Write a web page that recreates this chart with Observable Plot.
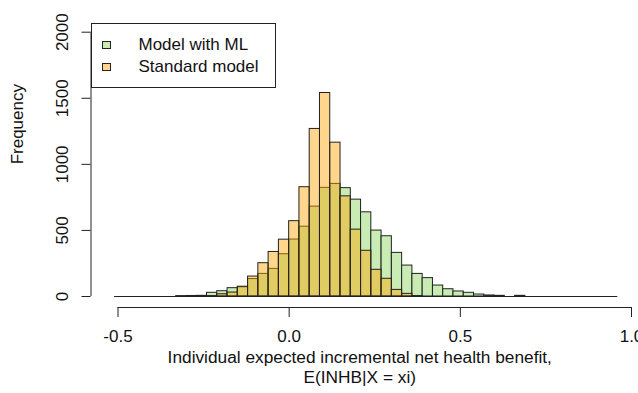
<!DOCTYPE html>
<html>
<head>
<meta charset="utf-8">
<script src="https://cdn.jsdelivr.net/npm/d3@7"></script>
<script src="https://cdn.jsdelivr.net/npm/@observablehq/plot@0.6"></script>
<style>
  html, body { margin: 0; padding: 0; background: #fff; }
  #wrap { position: relative; width: 638px; height: 393px; font-family: "Liberation Sans", Arial, sans-serif; color: #111; }
  #legend { position: absolute; left: 90.5px; top: 22.5px; width: 183px; height: 63px; border: 1px solid #222; background: #fff; }
  .item { position: absolute; left: 10px; height: 20px; display: flex; align-items: center; font-size: 17px; white-space: nowrap; }
  .sw { width: 7px; height: 6px; border: 1px solid #222; margin-right: 28px; }
</style>
</head>
<body>
<div id="wrap"></div>
<script>
// ---- data ----
const binWidth = 0.03;
const binStarts = [
  -0.51, -0.48, -0.45, -0.42, -0.39, -0.36, -0.33, -0.30, -0.27, -0.24,
  -0.21, -0.18, -0.15, -0.12, -0.09, -0.06, -0.03, 0.00, 0.03, 0.06,
  0.09, 0.12, 0.15, 0.18, 0.21, 0.24, 0.27, 0.30, 0.33, 0.36,
  0.39, 0.42, 0.45, 0.48, 0.51, 0.54, 0.57, 0.60, 0.63, 0.66,
  0.69, 0.72, 0.75, 0.78, 0.81, 0.84, 0.87, 0.90, 0.93
];
const mlCounts = [
  0, 0, 0, 0, 0, 0, 3, 4, 5, 28,
  40, 63, 70, 132, 171, 209, 320, 431, 528, 680,
  822, 852, 820, 733, 637, 499, 456, 330, 234, 171,
  139, 83, 55, 38, 28, 15, 8, 5, 0, 5,
  0, 0, 0, 0, 0, 0, 0, 0, 0
];
const stdCounts = [
  0, 0, 0, 0, 0, 0, 0, 0, 0, 3,
  17, 30, 74, 151, 252, 337, 430, 570, 827, 1268,
  1540, 1164, 758, 506, 346, 202, 134, 50, 20, 3,
  0, 0, 0, 0, 0, 0, 0, 0, 0, 0,
  0, 0, 0, 0, 0, 0, 0, 0, 0
];
const seriesNames = ["Model with ML", "Standard model"];
const xTicks = [-0.5, 0.0, 0.5, 1.0];
const yTicks = [0, 500, 1000, 1500, 2000];
const xLabel = "Individual expected incremental net health benefit,\nE(INHB|X = xi)";
const yLabel = "Frequency";

const colML = "#c8ecb4";
const colStd = "orange";

const bins = binStarts.map((x0, i) => ({x0, x1: x0 + binWidth, ml: mlCounts[i], std: stdCounts[i]}));

const axisShiftX = -27;
const axisShiftY = 11;

const chart = Plot.plot({
  width: 638,
  height: 393,
  marginLeft: 117.5,
  marginRight: 7,
  marginTop: 31.7,
  marginBottom: 97,
  style: {fontFamily: "Liberation Sans, Arial, sans-serif", fontSize: "17px", color: "#111", background: "#fff", overflow: "visible"},
  x: {domain: [xTicks[0], xTicks[xTicks.length - 1]], axis: null},
  y: {domain: [yTicks[0], yTicks[yTicks.length - 1]], axis: null},
  marks: [
    Plot.ruleY([0], {x1: binStarts[0], x2: binStarts[binStarts.length - 1] + binWidth, stroke: "#222", strokeWidth: 1}),
    Plot.rectY(bins, {x1: "x0", x2: "x1", y: "ml", fill: colML, stroke: "#222", strokeWidth: 1}),
    Plot.rectY(bins, {x1: "x0", x2: "x1", y: "std", fill: colStd, fillOpacity: 0.45, stroke: "#222", strokeWidth: 1}),
    // x axis (R style, offset below)
    Plot.ruleY([yTicks[0]], {x1: xTicks[0], x2: xTicks[xTicks.length - 1], dy: axisShiftY, stroke: "#222"}),
    Plot.axisX(xTicks, {tickSize: 10, dy: axisShiftY, tickPadding: 12, tickFormat: d => d.toFixed(1), fontSize: 17, label: null, stroke: "#222", fill: "#111"}),
    // y axis (R style, offset left, rotated labels)
    Plot.ruleX([xTicks[0]], {y1: yTicks[0], y2: yTicks[yTicks.length - 1], dx: axisShiftX, stroke: "#222"}),
    Plot.axisY(yTicks, {tickSize: 9, dx: axisShiftX, tickPadding: 14, tickRotate: -90, tickFormat: d => String(d), fontSize: 17, label: null, stroke: "#222", fill: "#111"}),
    // axis titles
    Plot.text([xLabel], {frameAnchor: "bottom", dx: -15, dy: 70.5, lineAnchor: "middle", lineHeight: 1.13, fontSize: 17.3, fill: "#111"}),
    Plot.text([yLabel], {frameAnchor: "left", dx: -100.5, rotate: -90, fontSize: 17, fill: "#111"})
  ]
});

const wrap = document.getElementById("wrap");
wrap.appendChild(chart);

// legend (inside plot, top-left, as in the reference)
const legend = document.createElement("div");
legend.id = "legend";
const legendCols = ["#c8ecb4", "#ffd68c"];
seriesNames.forEach((name, i) => {
  const it = document.createElement("div");
  it.className = "item";
  it.style.top = (11 + i * 22.5) + "px";
  const sw = document.createElement("span");
  sw.className = "sw";
  sw.style.background = legendCols[i];
  const tx = document.createElement("span");
  tx.textContent = name;
  it.appendChild(sw);
  it.appendChild(tx);
  legend.appendChild(it);
});
wrap.appendChild(legend);
</script>
</body>
</html>
